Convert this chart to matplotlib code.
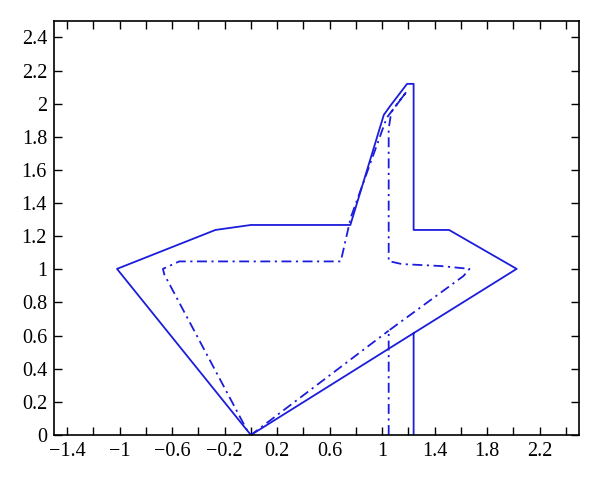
import matplotlib
matplotlib.use("Agg")
import matplotlib.pyplot as plt
import numpy as np

# outer contour (solid)
solid_x = [1.24, 1.24, 2.025, 1.51, 1.24, 1.24, 1.19, 1.06, 1.013, 0.758, 0.0, -0.27, -1.02, 0.0, 1.24]
solid_y = [0.0, 0.615, 1.003, 1.238, 1.238, 2.12, 2.12, 1.985, 1.933, 1.268, 1.268, 1.238, 1.003, 0.0, 0.615]

# inner contour (dash-dot)
dash_x = [1.05, 1.05, 1.62, 1.665, 1.45, 1.15, 1.05, 1.05, 1.07, 1.19, 1.035, 0.761, 0.685,
          -0.546, -0.67, -0.66, -0.03, 0.0, 1.05]
dash_y = [0.0, 0.63, 0.96, 1.003, 1.02, 1.032, 1.05, 1.85, 1.95, 2.077, 1.915, 1.313, 1.048,
          1.048, 1.003, 0.97, 0.03, 0.0, 0.63]

xticks = np.round(np.arange(-1.4, 2.41, 0.2), 1)
xlabels = ["-1.4", "", "-1", "", "-0.6", "", "-0.2", "", "0.2", "", "0.6", "", "1", "",
           "1.4", "", "1.8", "", "2.2", ""]
yticks = np.round(np.arange(0, 2.41, 0.2), 1)
ylabels = ["0", "0.2", "0.4", "0.6", "0.8", "1", "1.2", "1.4", "1.6", "1.8", "2", "2.2", "2.4"]

plt.rcParams['font.family'] = ['Liberation Serif', 'DejaVu Serif']

fig = plt.figure(figsize=(6.0, 4.98), dpi=100)
ax = fig.add_axes([0.09, 0.1265, 0.875, 0.8315])

blue = '#1c1cdc'
ax.plot(solid_x, solid_y, color=blue, lw=1.3)
ax.plot(dash_x, dash_y, color=blue, lw=1.3, dashes=(5.5, 2.5, 1.2, 2.5))

ax.set_xlim(-1.5, 2.5)
ax.set_ylim(0, 2.5)
ax.set_xticks(xticks)
ax.set_xticklabels([s.replace("-", "\u2212") for s in xlabels])
ax.set_yticks(yticks)
ax.set_yticklabels(ylabels)
ax.tick_params(direction='in', length=6, width=1.0, top=True, right=True,
               labelsize=14.5, pad=5, colors='black')
for sp in ax.spines.values():
    sp.set_linewidth(1.2)

fig.savefig("out.png", dpi=100)
